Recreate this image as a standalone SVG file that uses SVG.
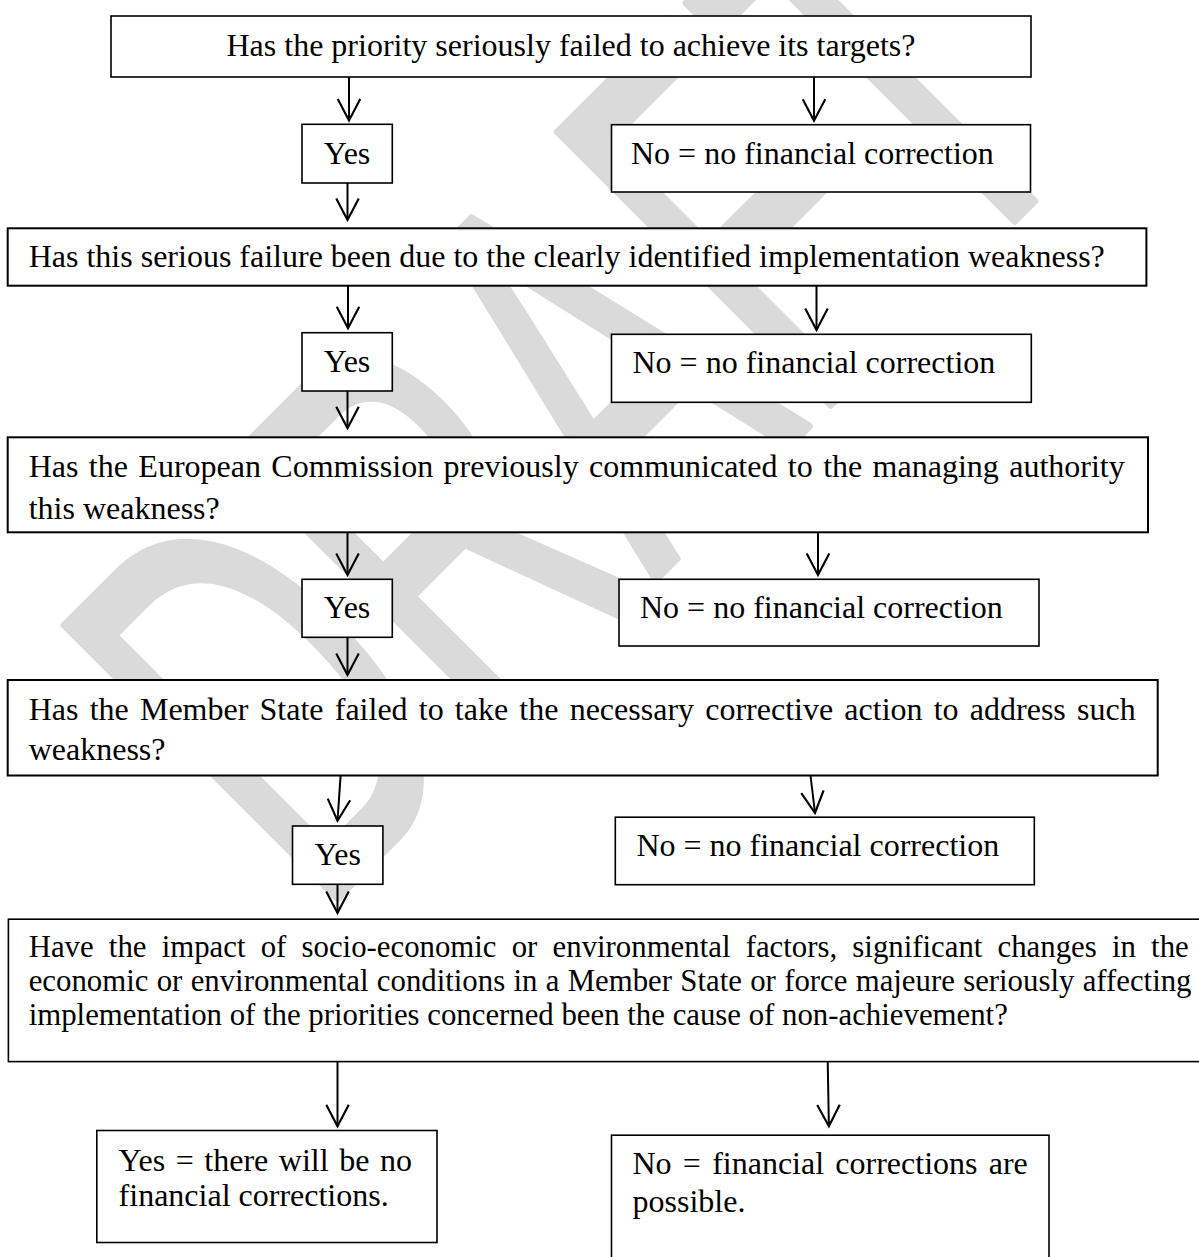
<svg xmlns="http://www.w3.org/2000/svg" width="1199" height="1257" viewBox="0 0 1199 1257">
<style>
.bx{fill:#fff;stroke:#000;stroke-width:1.6}
.bx2{fill:#fff;stroke:#000;stroke-width:2}
.t{font-family:"Liberation Serif","Times New Roman",serif;font-size:32px;fill:#000}
.s{font-size:30.8px}
.c{text-anchor:middle}
.ar{fill:none;stroke:#000;stroke-width:2;marker-end:url(#ah)}
.wm{font-family:"Liberation Sans",Arial,sans-serif;font-size:560px;fill:#dadada;stroke:#dadada;stroke-width:8;stroke-linejoin:round}
</style>
<defs>
<marker id="ah" markerUnits="userSpaceOnUse" markerWidth="30" markerHeight="30" viewBox="-24 -14 28 28" refX="0" refY="0" orient="auto" overflow="visible">
<path d="M-20,-10.5 L0,0 L-20,10.5" fill="none" stroke="#000" stroke-width="2"/>
</marker>
</defs>
<rect width="1199" height="1257" fill="#fff"/>
<g id="watermark">
<text class="wm" transform="translate(317,918) rotate(-45) scale(0.59,1)">DRAFT</text>
</g>
<g id="n1"><rect class="bx" x="111" y="16" width="920" height="61"/><text class="t c" x="571" y="56">Has the priority seriously failed to achieve its targets?</text></g>
<g id="yes1"><rect class="bx" x="302" y="124.3" width="90.3" height="58.7"/><text class="t c" x="347" y="164">Yes</text></g>
<g id="no1"><rect class="bx" x="611.5" y="124.7" width="419" height="67.3"/><text class="t" x="631" y="164">No = no financial correction</text></g>
<g id="n2"><rect class="bx2" x="7.7" y="228.3" width="1138.7" height="57.4"/><text class="t" x="28.7" y="266.7">Has this serious failure been due to the clearly identified implementation weakness?</text></g>
<g id="yes2"><rect class="bx" x="302" y="332.7" width="90.3" height="58.3"/><text class="t c" x="347" y="371.7">Yes</text></g>
<g id="no2"><rect class="bx" x="611.5" y="334.3" width="419.8" height="68"/><text class="t" x="632.5" y="373.3">No = no financial correction</text></g>
<g id="n3"><rect class="bx2" x="7.7" y="437.3" width="1140.3" height="95"/><text class="t" x="28.7" y="476.7" word-spacing="2.4">Has the European Commission previously communicated to the managing authority</text><text class="t" x="28.7" y="519">this weakness?</text></g>
<g id="yes3"><rect class="bx" x="302" y="579.3" width="90.3" height="58"/><text class="t c" x="347" y="617.7">Yes</text></g>
<g id="no3"><rect class="bx" x="619" y="579.3" width="420" height="66.7"/><text class="t" x="640" y="617.7">No = no financial correction</text></g>
<g id="n4"><rect class="bx2" x="7.7" y="680" width="1150" height="95.5"/><text class="t" x="28.7" y="720" word-spacing="3.2">Has the Member State failed to take the necessary corrective action to address such</text><text class="t" x="28.7" y="760">weakness?</text></g>
<g id="yes4"><rect class="bx" x="292.5" y="826" width="90.4" height="58.3"/><text class="t c" x="337.7" y="865">Yes</text></g>
<g id="no4"><rect class="bx" x="615.3" y="817.2" width="419" height="67.5"/><text class="t" x="636.4" y="856.3">No = no financial correction</text></g>
<g id="n5"><rect class="bx" x="8.4" y="919.2" width="1200" height="142.4"/><text class="t s" x="28.7" y="956.5" word-spacing="7.5">Have the impact of socio-economic or environmental factors, significant changes in the</text><text class="t s" x="28.7" y="991.3" word-spacing="0.6">economic or environmental conditions in a Member State or force majeure seriously affecting</text><text class="t s" x="28.7" y="1025">implementation of the priorities concerned been the cause of non-achievement?</text></g>
<g id="yesF"><rect class="bx" x="96.8" y="1130.5" width="340.2" height="112"/><text class="t" x="118.6" y="1170.7" word-spacing="2.56">Yes = there will be no</text><text class="t" x="118.6" y="1206.2">financial corrections.</text></g>
<g id="noF"><rect class="bx" x="611.5" y="1135.2" width="437.5" height="140"/><text class="t" x="632.5" y="1174.2" word-spacing="3.25">No = financial corrections are</text><text class="t" x="632.5" y="1211.5">possible.</text></g>
<g id="connectors">
<line class="ar" x1="349" y1="77" x2="349" y2="120.5"/>
<line class="ar" x1="814" y1="77" x2="814" y2="120.7"/>
<line class="ar" x1="347.5" y1="183" x2="347.5" y2="220"/>
<line class="ar" x1="348" y1="285.7" x2="348" y2="328.3"/>
<line class="ar" x1="816.5" y1="285.7" x2="816.5" y2="330"/>
<line class="ar" x1="347.5" y1="391" x2="347.5" y2="428.3"/>
<line class="ar" x1="347.5" y1="532.3" x2="347.5" y2="575"/>
<line class="ar" x1="818" y1="532.3" x2="818" y2="575"/>
<line class="ar" x1="347.5" y1="637.3" x2="347.5" y2="675"/>
<line class="ar" x1="340.6" y1="775.5" x2="337.5" y2="820.8"/>
<line class="ar" x1="810.5" y1="775.5" x2="815" y2="813"/>
<line class="ar" x1="337.5" y1="884.3" x2="337.5" y2="913"/>
<line class="ar" x1="337.5" y1="1061.6" x2="337.5" y2="1126.3"/>
<line class="ar" x1="827.7" y1="1061.6" x2="828.9" y2="1126.3"/>
</g>
</svg>
